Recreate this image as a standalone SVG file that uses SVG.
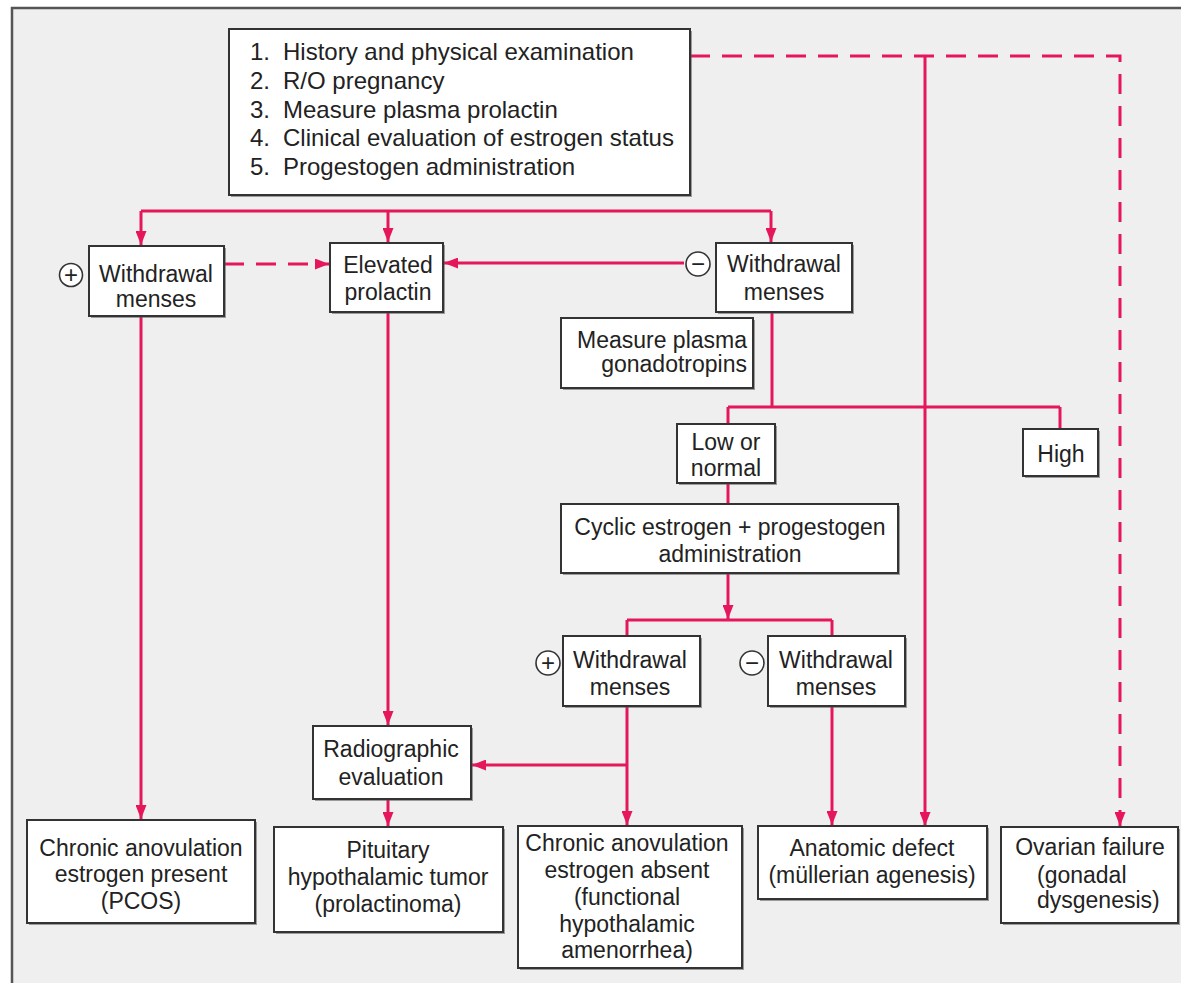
<svg xmlns="http://www.w3.org/2000/svg" width="1181" height="983" viewBox="0 0 1181 983">
<defs>
<marker id="ah" markerUnits="userSpaceOnUse" markerWidth="14" markerHeight="11" refX="14" refY="5.5" orient="auto">
<path d="M0,0 L14,5.5 L0,11 z" fill="#e5175a"/>
</marker>
<style>
.bg{fill:#efefef}
.frame{fill:none;stroke:#555;stroke-width:2.5}
.sh{fill:#555;opacity:0.55}
.box{fill:#fff;stroke:#333;stroke-width:2}
.t{font-family:"Liberation Sans",Arial,sans-serif;font-size:23px;fill:#222}
.tl{font-family:"Liberation Sans",Arial,sans-serif;font-size:24px;fill:#222}
.c{text-anchor:middle}
.e{text-anchor:end}
.ln{fill:none;stroke:#e5175a;stroke-width:3}
.dash{stroke-dasharray:20 12}
.arr{marker-end:url(#ah)}
.sym{fill:#fff;stroke:#333;stroke-width:1.6}
.st{font-family:"Liberation Sans",Arial,sans-serif;font-size:24px;fill:#222;text-anchor:middle}
</style>
</defs>
<rect x="0" y="0" width="1181" height="983" fill="#fff"/>
<rect class="bg" x="12" y="8" width="1169" height="975"/>
<path class="frame" d="M12,983 L12,8 L1181,8"/>

<g id="connectors">
<path class="ln dash arr" d="M690,56 L1120,56 L1120,826"/>
<path class="ln arr" d="M925,56 L925,826"/>
<path class="ln" d="M141,211 L771,211"/>
<path class="ln arr" d="M141,211 L141,245"/>
<path class="ln arr" d="M388,211 L388,242"/>
<path class="ln arr" d="M771,211 L771,242"/>
<path class="ln dash arr" d="M224,264 L329,264"/>
<path class="ln arr" d="M684,263 L444,263"/>
<path class="ln arr" d="M141,316 L141,819"/>
<path class="ln arr" d="M388,312 L388,725"/>
<path class="ln" d="M772,312 L772,407"/>
<path class="ln" d="M728,407 L1060,407"/>
<path class="ln" d="M728,407 L728,424"/>
<path class="ln" d="M1060,407 L1060,429"/>
<path class="ln" d="M728,483 L728,504"/>
<path class="ln arr" d="M728,573 L728,619"/>
<path class="ln" d="M627,620 L832,620"/>
<path class="ln" d="M627,620 L627,636"/>
<path class="ln" d="M832,620 L832,636"/>
<path class="ln arr" d="M627,706 L627,825"/>
<path class="ln arr" d="M627,765 L472,765"/>
<path class="ln arr" d="M832,706 L832,825"/>
<path class="ln arr" d="M388,799 L388,826"/>
</g>

<g id="start">
<rect class="sh" x="231" y="31" width="461" height="166"/>
<rect class="box" x="229" y="29" width="461" height="166"/>
<text class="tl" x="250" y="60">1.</text><text class="tl" x="283" y="60">History and physical examination</text>
<text class="tl" x="250" y="89">2.</text><text class="tl" x="283" y="89">R/O pregnancy</text>
<text class="tl" x="250" y="118">3.</text><text class="tl" x="283" y="118">Measure plasma prolactin</text>
<text class="tl" x="250" y="146">4.</text><text class="tl" x="283" y="146">Clinical evaluation of estrogen status</text>
<text class="tl" x="250" y="175">5.</text><text class="tl" x="283" y="175">Progestogen administration</text>
</g>

<g id="withdrawal-pos">
<rect class="sh" x="91" y="248" width="135" height="70"/>
<rect class="box" x="89" y="246" width="135" height="70"/>
<text class="t c" x="156" y="282">Withdrawal</text>
<text class="t c" x="156" y="307">menses</text>
<circle class="sym" cx="71" cy="275" r="11.5"/>
<text class="st" x="71" y="283">+</text>
</g>

<g id="elevated-prolactin">
<rect class="sh" x="332" y="245" width="113" height="69"/>
<rect class="box" x="330" y="243" width="113" height="69"/>
<text class="t c" x="388" y="273">Elevated</text>
<text class="t c" x="388" y="300">prolactin</text>
</g>

<g id="withdrawal-neg">
<rect class="sh" x="718" y="245" width="136" height="69"/>
<rect class="box" x="716" y="243" width="136" height="69"/>
<text class="t c" x="784" y="272">Withdrawal</text>
<text class="t c" x="784" y="300">menses</text>
<circle class="sym" cx="698" cy="264" r="12"/>
<text class="st" x="698" y="272">−</text>
</g>

<g id="gonadotropins">
<rect class="sh" x="563" y="320" width="192" height="70"/>
<rect class="box" x="561" y="318" width="192" height="70"/>
<text class="t e" x="747" y="348">Measure plasma</text>
<text class="t e" x="747" y="372">gonadotropins</text>
</g>

<g id="low-normal">
<rect class="sh" x="679" y="426" width="98" height="59"/>
<rect class="box" x="677" y="424" width="98" height="59"/>
<text class="t c" x="726" y="450">Low or</text>
<text class="t c" x="726" y="476">normal</text>
</g>

<g id="high">
<rect class="sh" x="1025" y="431" width="75" height="47"/>
<rect class="box" x="1023" y="429" width="75" height="47"/>
<text class="t c" x="1061" y="462">High</text>
</g>

<g id="cyclic">
<rect class="sh" x="563" y="506" width="337" height="69"/>
<rect class="box" x="561" y="504" width="337" height="69"/>
<text class="t c" x="730" y="535">Cyclic estrogen + progestogen</text>
<text class="t c" x="730" y="562">administration</text>
</g>

<g id="withdrawal-pos-2">
<rect class="sh" x="565" y="638" width="137" height="70"/>
<rect class="box" x="563" y="636" width="137" height="70"/>
<text class="t c" x="630" y="668">Withdrawal</text>
<text class="t c" x="630" y="695">menses</text>
<circle class="sym" cx="548" cy="663" r="12"/>
<text class="st" x="548" y="671">+</text>
</g>

<g id="withdrawal-neg-2">
<rect class="sh" x="770" y="638" width="137" height="70"/>
<rect class="box" x="768" y="636" width="137" height="70"/>
<text class="t c" x="836" y="668">Withdrawal</text>
<text class="t c" x="836" y="695">menses</text>
<circle class="sym" cx="752" cy="663" r="12"/>
<text class="st" x="752" y="671">−</text>
</g>

<g id="radiographic">
<rect class="sh" x="315" y="728" width="158" height="73"/>
<rect class="box" x="313" y="726" width="158" height="73"/>
<text class="t c" x="391" y="757">Radiographic</text>
<text class="t c" x="391" y="785">evaluation</text>
</g>

<g id="pcos">
<rect class="sh" x="29" y="822" width="228" height="103"/>
<rect class="box" x="27" y="820" width="228" height="103"/>
<text class="t c" x="141" y="856">Chronic anovulation</text>
<text class="t c" x="141" y="882">estrogen present</text>
<text class="t c" x="141" y="909">(PCOS)</text>
</g>

<g id="prolactinoma">
<rect class="sh" x="276" y="829" width="229" height="105"/>
<rect class="box" x="274" y="827" width="229" height="105"/>
<text class="t c" x="388" y="858">Pituitary</text>
<text class="t c" x="388" y="885">hypothalamic tumor</text>
<text class="t c" x="388" y="912">(prolactinoma)</text>
</g>

<g id="hypothalamic-amenorrhea">
<rect class="sh" x="520" y="828" width="224" height="142"/>
<rect class="box" x="518" y="826" width="224" height="142"/>
<text class="t c" x="627" y="851">Chronic anovulation</text>
<text class="t c" x="627" y="878">estrogen absent</text>
<text class="t c" x="627" y="905">(functional</text>
<text class="t c" x="627" y="932">hypothalamic</text>
<text class="t c" x="627" y="958">amenorrhea)</text>
</g>

<g id="anatomic-defect">
<rect class="sh" x="760" y="828" width="229" height="73"/>
<rect class="box" x="758" y="826" width="229" height="73"/>
<text class="t c" x="872" y="856">Anatomic defect</text>
<text class="t c" x="872" y="883">(müllerian agenesis)</text>
</g>

<g id="ovarian-failure">
<rect class="sh" x="1003" y="829" width="177" height="96"/>
<rect class="box" x="1001" y="827" width="177" height="96"/>
<text class="t c" x="1090" y="855">Ovarian failure</text>
<text class="t" x="1037" y="883">(gonadal</text>
<text class="t" x="1037" y="908">dysgenesis)</text>
</g>
</svg>
